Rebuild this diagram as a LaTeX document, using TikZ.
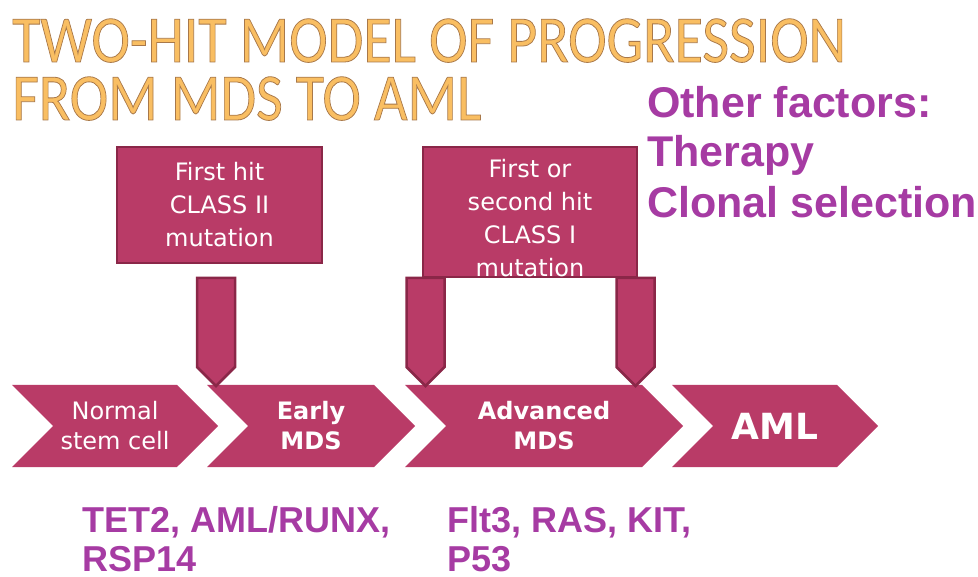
\documentclass[tikz,border=0pt]{standalone}
\usepackage{fontspec}
\setmainfont{DejaVu Sans}
\newfontfamily\headfont[FakeBold=1.2]{Carlito}
\newfontfamily\notefont{Liberation Sans}
\usepackage{xcolor}
\definecolor{stage}    {HTML}{B93B67}
\definecolor{stageRim} {HTML}{8A2748}
\definecolor{factor}   {HTML}{A63BA3}
\definecolor{headFill} {HTML}{F9BE62}
\definecolor{headRim}  {HTML}{A8784A}
\usetikzlibrary{shapes.symbols, positioning}
% outlined heading: fill colour from the node, stroke colour set by hand
\newcommand\rimmed[1]{\special{pdf:code 0.659 0.471 0.290 RG}#1}
\tikzset{
    stage/.style={signal, signal pointer angle=90, signal to=east,
                  signal from=west, fill=stage, text=white, align=center,
                  minimum height=82pt, inner sep=0pt,
                  font=\fontsize{24}{30}\selectfont},
    hitbox/.style={rectangle, draw=stageRim, line width=2.5pt, fill=stage,
                   text=white, align=center, inner sep=0pt,
                   font=\fontsize{24}{33}\selectfont},
    hittext/.style={text=white, align=center, inner sep=0pt,
                    font=\fontsize{24}{33}\selectfont},
    hitarrow/.style={signal, signal to=south, signal pointer angle=90,
                     draw=stageRim, line width=2.5pt, fill=stage,
                     minimum width=38pt, minimum height=89pt, inner sep=0pt},
    headline/.style={anchor=base west, inner sep=0pt, text=headFill,
                     yscale=1.15, transform shape,
                     font=\fontsize{58}{58}\headfont},
    factor/.style={anchor=base west, inner sep=0pt, text=factor,
                   font=\notefont\fontsize{43}{50}\selectfont\bfseries},
    gene/.style={anchor=base west, inner sep=0pt, text=factor,
                 font=\notefont\fontsize{36}{41}\selectfont\bfseries},
}
\begin{document}
\begin{tikzpicture}[x=1pt, y=-1pt]
    \useasboundingbox (0,0) rectangle (978,577);
    % Title
    \node[headline] (titleA) at (12,62) {\rimmed{TWO-HIT MODEL OF PROGRESSION}};
    \node[headline] (titleB) at (12,120) {\rimmed{FROM MDS TO AML}};
    % Other factors
    \node[factor] (other) at (647,118) {Other factors:};
    \node[factor] (therapy) at (647,167) {Therapy};
    \node[factor] (clonal) at (647,218) {Clonal selection};
    % Stages
    \node[stage, minimum width=206pt] (normal) at (115,426) {Normal\\stem cell};
    \node[stage, minimum width=208pt, font=\fontsize{24}{30}\selectfont\bfseries] (early) at (311,426) {Early\\MDS};
    \node[stage, minimum width=278pt, font=\fontsize{24}{30}\selectfont\bfseries] (advanced) at (544,426) {Advanced\\MDS};
    \node[stage, minimum width=206pt, font=\fontsize{36}{40}\selectfont\bfseries] (aml) at (775,426) {AML};
    % Hits
    \node[hitarrow] (hitdown) at (216,322.5) {};
    \node[hitarrow] (legleft) at (425.5,322.5) {};
    \node[hitarrow] (legright) at (635.5,322.5) {};
    \node[hitbox, minimum width=205pt, minimum height=116pt] (hitone) at (219.5,205) {First hit\\CLASS II\\mutation};
    \node[hitbox, minimum width=214pt, minimum height=130pt] (hittwo) at (530,212) {};
    \node[hittext] (hittwotext) at (hittwo.center) [yshift=-6pt] {First or\\second hit\\CLASS I\\mutation};
    % Genes
    \node[gene] (classtwo) at (82,532) {TET2, AML/RUNX,};
    \node[gene] (classtwob) at (82,571) {RSP14};
    \node[gene] (classone) at (447,532) {Flt3, RAS, KIT,};
    \node[gene] (classoneb) at (447,571) {P53};
\end{tikzpicture}
\end{document}
